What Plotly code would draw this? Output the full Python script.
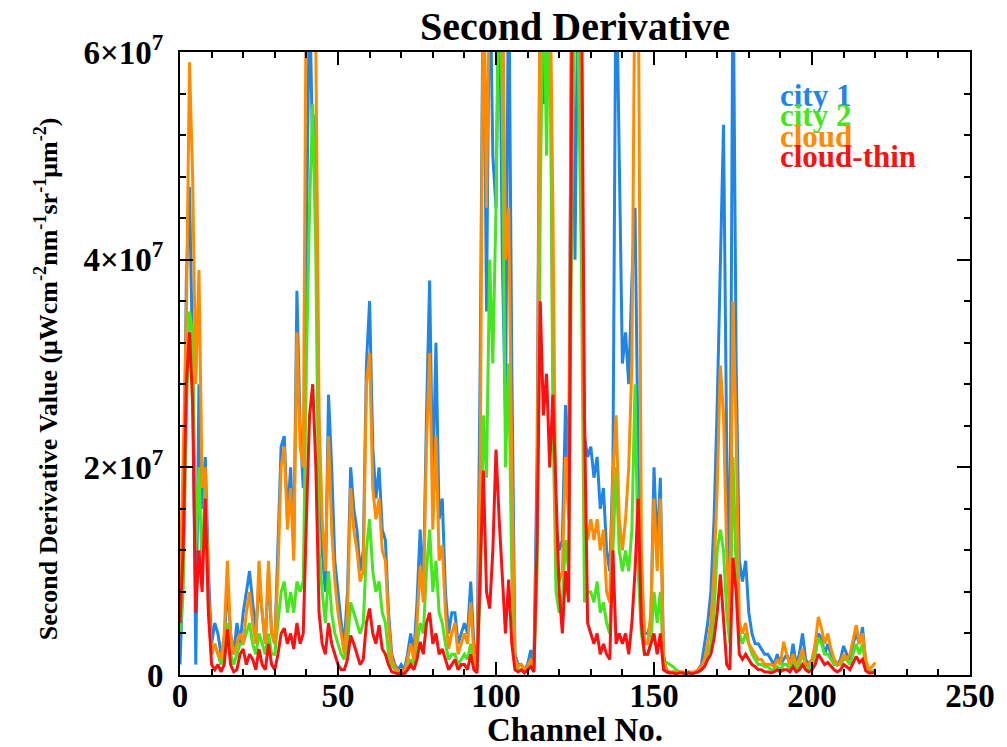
import plotly.graph_objects as go

# Values in units of 1e6 (uW cm^-2 nm^-1 sr^-1 um^-2), channels 0..220
SCALE = 1e6
channels = list(range(221))

city1 = [
    1, 10, 38, 47, 30, 1, 28, 16, 21, 10,
    3, 5, 4, 2, 3, 9, 4, 2, 5, 3,
    6, 8, 10, 7, 4, 9, 6, 3, 10, 4,
    3, 12, 22, 23, 15, 20, 12, 37, 24, 18,
    45, 66, 50, 54, 22, 12, 8, 27, 20, 11,
    8, 5, 3, 8, 20, 16, 14, 10, 12, 30,
    36, 22, 17, 20, 14, 13, 6, 2, 1, 0.5,
    1, 0.5, 2, 4, 2, 7, 14, 8, 25, 38,
    18, 32, 15, 17, 8, 4, 6, 6, 3, 4,
    5, 4, 9, 3, 1, 30, 70, 35, 70, 50,
    45, 70, 40, 25, 70, 30, 2, 1, 1, 0.5,
    1, 2.4, 1, 21, 70, 55, 65, 70, 30, 14,
    12, 13, 26, 18, 70, 40, 70, 50, 23, 21,
    22, 19, 21, 16, 18, 12, 10, 20, 70, 50,
    30, 33, 28, 38, 45, 20, 10, 4, 4, 5,
    20, 12, 19, 2, 0.3, 0.2, 0.3, 0.2, 0.3, 0.2,
    0.2, 0.3, 0.2, 0.3, 0.5, 1, 2.8, 5, 8, 15,
    26, 40, 53, 22, 8, 70, 30, 11, 9, 11,
    6, 4, 3, 3, 2.5, 2, 2, 1.5, 1, 2,
    1, 1.5, 2, 1, 3, 1, 2, 4, 1.5, 1,
    1.5, 2, 4, 3.5, 2, 3, 2, 1.5, 1, 1.5,
    2.8, 2, 1.5, 3, 4, 3, 4.6, 1, 0.5, 0.3,
    0.5,
]

city2 = [
    4, 8, 25, 35, 33, 12, 20, 10, 19, 6,
    2, 3, 2, 1, 2, 5, 2, 1, 2, 3,
    3, 4, 5, 3, 2, 4, 3, 2, 4, 2,
    2, 5, 8, 9, 6, 8, 6, 9, 8, 9,
    30, 45, 55, 40, 12, 8, 5, 10, 6, 4,
    3, 2, 1.5, 3, 7, 6, 5, 4, 5, 12,
    15, 10, 8, 9, 6, 5, 2, 1, 0.5, 0.3,
    0.3, 0.2, 0.8, 1.5, 1, 3, 5, 4, 10, 14,
    8, 11, 6, 5, 3, 1.5, 2, 2, 1, 1.5,
    2, 1.5, 3, 1, 0.5, 8, 25, 19, 40, 30,
    45, 70, 55, 20, 30, 10, 1, 0.5, 0.5, 0.3,
    0.5, 1, 0.5, 10, 45, 70, 50, 70, 25, 8,
    6, 7, 13, 10, 45, 70, 60, 40, 7, 8,
    8, 7, 9, 6, 7, 5, 4, 12, 20, 12,
    10, 12, 10, 14, 28, 10, 4, 2, 2, 3,
    8, 5, 8, 1, 1.2, 1, 0.8, 0.5, 0.3, 0.3,
    0.2, 0.2, 0.2, 0.3, 0.3, 0.5, 1, 2, 3, 6,
    12, 14, 12, 6, 3, 21, 10, 4, 3, 4,
    3, 2, 1.5, 1, 1, 0.8, 0.8, 0.5, 0.5, 0.8,
    0.5, 1, 1, 0.5, 1.5, 0.5, 1, 2, 1, 0.5,
    1, 2, 3.6, 3, 2, 2, 1.5, 1, 1, 1,
    1.5, 1.5, 1, 2, 3, 2, 3, 0.8, 0.3, 0.3,
    0.5,
]

cloud = [
    8, 21, 34, 59, 48, 28, 39, 18, 20, 8,
    2, 3, 2, 1.5, 4, 11, 4, 2, 3, 4,
    3, 6, 8, 5, 3, 11, 6, 3, 11, 4,
    3, 10, 20, 22, 14, 18, 11, 33, 22, 20,
    70, 70, 70, 60, 25, 15, 10, 23, 14, 9,
    6, 4, 2, 6, 18, 14, 12, 9, 10, 28,
    31, 18, 15, 17, 12, 11, 5, 1.5, 0.8, 0.3,
    0.5, 0.3, 1.5, 3, 1.5, 5, 10.5, 7, 22, 31,
    14, 23, 11, 12.5, 6, 2.5, 4, 5, 2, 3,
    4, 3, 7, 2, 0.5, 20, 70, 45, 70, 70,
    70, 70, 70, 40, 45, 20, 1.5, 0.8, 1, 0.5,
    0.8, 1.5, 0.8, 15, 70, 70, 70, 70, 45, 12,
    9, 10, 21, 15, 70, 70, 70, 60, 15, 13,
    15, 13, 15, 12, 14, 8, 7, 19, 25, 15,
    12, 15, 20, 30, 70, 70, 12, 3, 3, 6,
    17, 10, 17, 1.5, 0.5, 0.3, 0.3, 0.2, 0.3, 0.3,
    0.3, 0.2, 0.3, 0.3, 0.5, 0.8, 1.5, 3, 5, 10,
    18, 29.8, 25, 12, 5, 36, 23, 5, 4, 5,
    3, 2.5, 2, 1.5, 1.5, 1, 1, 1, 0.8, 1.5,
    1, 3.2, 2, 1, 2, 1, 1.5, 2.5, 1, 1,
    1.5, 3, 5.6, 4.5, 3, 4, 2.5, 1.5, 1, 1.2,
    2, 1.5, 2, 3.5, 4.8, 3, 4, 1.5, 0.5, 0.8,
    1.2,
]

cloud_thin = [
    5, 12, 28, 33, 26, 6, 12, 8, 17, 6,
    1, 0.5, 1, 0.3, 1, 4.4, 1, 0.3, 0.5, 2,
    2.5, 1, 2, 1.5, 0.5, 2.5, 1, 0.5, 3, 1,
    0.5, 2, 4, 4.5, 3, 4, 2.5, 5, 3, 4,
    15, 25, 28, 20, 6, 3, 2, 5, 3, 2,
    1, 0.5, 0.5, 1.5, 3.8, 3, 2, 1, 1.5, 5,
    6.4, 4, 3, 4.8, 2.5, 2, 1, 0.3, 0.2, 0.1,
    0.2, 0.1, 0.5, 1, 0.5, 1.5, 3.2, 2, 5, 6,
    3, 4, 2, 2.5, 1.5, 0.5, 1, 1.5, 0.5, 1,
    1, 0.5, 2, 0.5, 0.2, 10, 19.7, 8, 6.4, 12,
    21.7, 15, 9.2, 4, 9.2, 3, 0.5, 0.3, 0.5, 0.2,
    0.5, 0.8, 0.3, 12.9, 36, 25, 29, 20, 27, 18.5,
    8, 4, 10, 7, 60, 70, 70, 70, 25, 5,
    4, 3, 4, 2, 3, 2, 1.5, 12, 3, 4,
    3, 4, 2, 5, 10, 17, 5, 2, 2, 3,
    4, 2, 4, 0.5, 0.3, 0.2, 0.2, 0.1, 0.2, 0.2,
    0.1, 0.2, 0.1, 0.2, 0.3, 0.5, 0.8, 1.5, 2, 3.5,
    6, 9.7, 5, 1, 0.5, 11.3, 8, 2, 1.5, 2,
    1.5, 1, 0.8, 0.5, 0.5, 0.3, 0.3, 0.2, 0.3, 0.5,
    0.3, 0.5, 0.5, 0.3, 0.8, 0.3, 0.5, 1, 0.5, 0.3,
    0.5, 1, 2, 1.5, 1, 1.2, 0.8, 0.5, 0.3, 0.5,
    1, 0.8, 0.5, 1.2, 1.8, 1.2, 1.5, 0.4, 0.2, 0.2,
    0.3,
]

series_names = ["city 1", "city 2", "cloud", "cloud-thin"]
series_values = [city1, city2, cloud, cloud_thin]
series_colors = ["#1f86e8", "#44e61c", "#ff8c00", "#ff1010"]

y_tickvals = [0, 2e7, 4e7, 6e7]
y_ticktext = ["0", "2×10<sup>7</sup>", "4×10<sup>7</sup>", "6×10<sup>7</sup>"]
x_tickvals = [0, 50, 100, 150, 200, 250]

FONT = "Liberation Serif"

fig = go.Figure()
for name, vals, col in zip(series_names, series_values, series_colors):
    fig.add_trace(go.Scatter(
        x=channels, y=[v * SCALE for v in vals], mode="lines", name=name,
        line=dict(color=col, width=3), showlegend=False,
    ))

W, H = 1007, 747
L, R, T, B = 180, 30, 52, 72
pw, ph = W - L - R, H - T - B


def px(x):
    return (x - L) / pw


def py(y):
    return (H - B - y) / ph


axis_common = dict(
    showline=True, linecolor="black", linewidth=2, mirror="ticks",
    ticks="inside", tickcolor="black", tickwidth=2, ticklen=13,
    showgrid=False, zeroline=False,
    tickfont=dict(family=FONT, size=33, color="black", weight="bold"),
)

fig.update_xaxes(
    range=[0, 250], tickvals=x_tickvals, ticktext=[str(v) for v in x_tickvals],
    ticklabelstandoff=-10,
    minor=dict(dtick=10, ticks="inside", ticklen=6, tickwidth=2, tickcolor="black", showgrid=False),
    **axis_common,
)
fig.update_yaxes(
    range=[0, 6e7], tickvals=y_tickvals, ticktext=y_ticktext, ticklabelstandoff=8,
    minor=dict(dtick=4e6, ticks="inside", ticklen=6, tickwidth=2, tickcolor="black", showgrid=False),
    **axis_common,
)

annotations = [
    dict(text="<b>Second Derivative</b>", x=px(578), y=py(27), xref="paper", yref="paper",
         showarrow=False, font=dict(family=FONT, size=40, color="black"), xanchor="center", yanchor="middle"),
    dict(text="<b>Channel No.</b>", x=px(578), y=py(730), xref="paper", yref="paper",
         showarrow=False, font=dict(family=FONT, size=33, color="black"), xanchor="center", yanchor="middle"),
    dict(text="<b>Second Derivative Value (μWcm<sup>-2</sup>nm<sup>-1</sup>sr<sup>-1</sup>μm<sup>-2</sup>)</b>",
         x=px(45), y=py(379), xref="paper", yref="paper", textangle=-90,
         showarrow=False, font=dict(family=FONT, size=26, color="black"), xanchor="center", yanchor="middle"),
]
legend_y = [95, 115.5, 136, 156.5]
for name, col, yy in zip(series_names, series_colors, legend_y):
    annotations.append(dict(
        text=f"<b>{name}</b>", x=px(783), y=py(yy), xref="paper", yref="paper",
        showarrow=False, font=dict(family=FONT, size=31, color=col), xanchor="left", yanchor="middle",
    ))

fig.update_layout(
    width=W, height=H, margin=dict(l=L, r=R, t=T, b=B),
    paper_bgcolor="white", plot_bgcolor="white",
    annotations=annotations, showlegend=False,
)

fig.write_html("out.html")
